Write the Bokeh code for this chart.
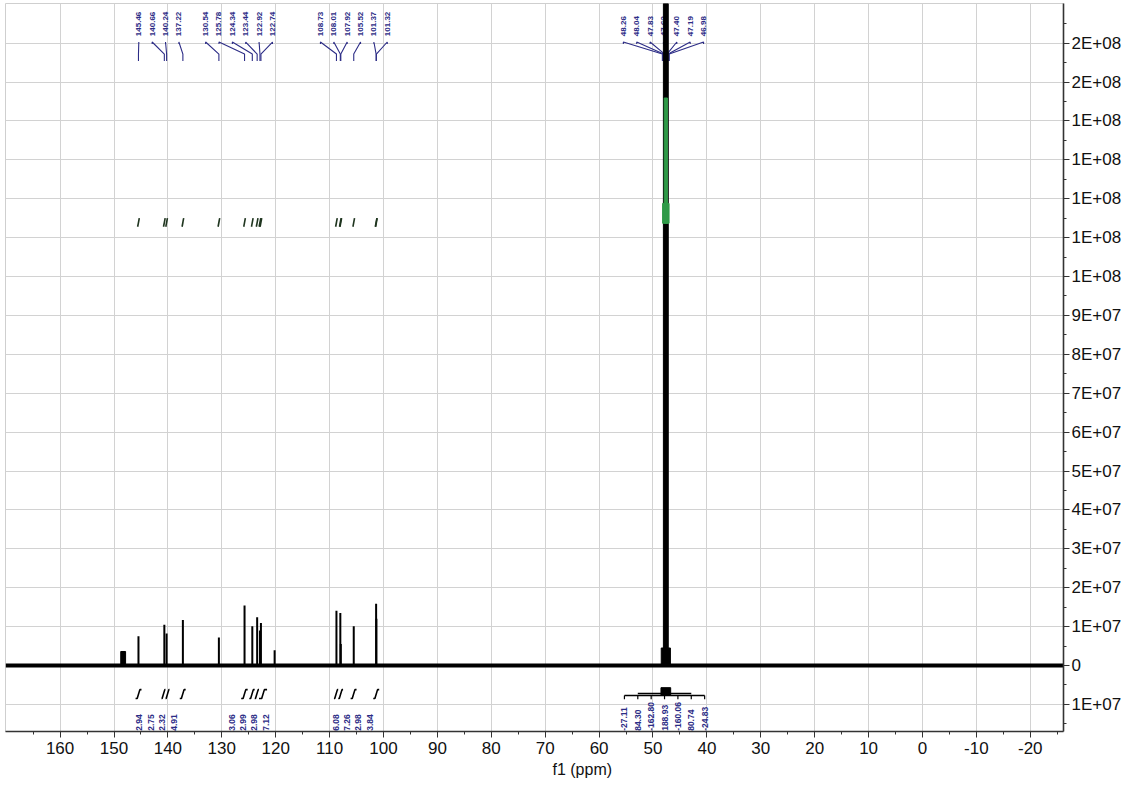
import numpy as np
from bokeh.plotting import figure
from bokeh.models import Range1d, FixedTicker, Title
from bokeh.embed import file_html
from bokeh.resources import INLINE
from bokeh.core.properties import value

# ---------------- data ----------------
spectrum_start, spectrum_end = 170.1, -26.2          # ppm extent of the trace
peak_ppm = [145.46, 140.66, 140.24, 137.22, 130.54, 125.78, 124.34, 123.44,
            122.92, 122.74, 120.20, 108.73, 108.01, 107.92, 105.52, 101.37, 101.32]
peak_height = [0.75e7, 1.05e7, 0.82e7, 1.17e7, 0.72e7, 1.54e7, 1.01e7, 1.24e7,
               0.90e7, 1.09e7, 0.39e7, 1.41e7, 1.35e7, 0.55e7, 1.01e7, 1.59e7, 1.20e7]
hump_ppm = [148.3]
hump_height = [0.36e7]
solvent_ppm = 47.62
solvent_height = 2.2e8          # off scale
solvent_base_height = 0.45e7
solvent_integral_span = [1.137e8, 1.459e8]   # green integral trace on the solvent peak
solvent_integral_wide = [1.137e8, 1.188e8]

label_groups = [[145.46, 140.66, 140.24, 137.22],
                [130.54, 125.78, 124.34, 123.44, 122.92, 122.74],
                [108.73, 108.01, 107.92, 105.52, 101.37, 101.32]]
solvent_labels = [48.26, 48.04, 47.83, 47.62, 47.40, 47.19, 46.98]

integral_values = [[2.94, 2.75, 2.32, 4.91],
                   [3.06, 2.99, 2.98, 7.12],
                   [6.08, 7.26, 2.98, 3.84]]
integral_ranges = [[(146.0, 144.9), (141.2, 140.45), (140.45, 139.7), (137.8, 136.7)],
                   [(126.4, 125.2), (124.9, 123.9), (123.9, 123.1), (123.1, 121.6)],
                   [(109.2, 108.4), (108.4, 107.5), (106.1, 105.0), (101.9, 100.8)]]
solvent_integrals = [-27.11, 84.30, -162.80, 188.93, -160.06, 80.74, -24.83]

x_tick_values = [160, 150, 140, 130, 120, 110, 100, 90, 80, 70, 60, 50, 40, 30, 20, 10, 0, -10, -20]
x_tick_labels = ["160", "150", "140", "130", "120", "110", "100", "90", "80", "70", "60",
                 "50", "40", "30", "20", "10", "0", "-10", "-20"]
y_tick_values = [-1e7, 0, 1e7, 2e7, 3e7, 4e7, 5e7, 6e7, 7e7, 8e7, 9e7,
                 1e8, 1.1e8, 1.2e8, 1.3e8, 1.4e8, 1.5e8, 1.6e8]
y_tick_labels = ["1E+07", "0", "1E+07", "2E+07", "3E+07", "4E+07", "5E+07", "6E+07",
                 "7E+07", "8E+07", "9E+07", "1E+08", "1E+08", "1E+08", "1E+08", "1E+08",
                 "2E+08", "2E+08"]
x_axis_title = "f1 (ppm)"

# ---------------- layout constants ----------------
X_LEFT, X_RIGHT = 170.13, -26.16
Y_BOTTOM, Y_TOP = -1.697e7, 1.702e8
LBL_COLOR = "#2c2c86"
TOP_STARTS = [145.4, 133.0, 111.7]
SOLV_TOP_START = 55.5
TOP_SPACING = 2.48
BOT_STARTS = [145.3, 128.2, 108.9]
BOT_SPACING = 2.13
SOLV_BOT_START = 55.3
Y_LBL_TOP = 1.618e8
Y_STUB = 1.603e8
Y_DIAG = 1.572e8
Y_END = 1.554e8
Y_INT_LO, Y_INT_HI = -0.85e7, -0.62e7
Y_LBL_BOT = -1.68e7

p = figure(frame_width=1058, frame_height=728,
           x_range=Range1d(X_LEFT, X_RIGHT), y_range=Range1d(Y_BOTTOM, Y_TOP),
           y_axis_location="right", toolbar_location=None, output_backend="svg",
           min_border_left=5, min_border_top=3, min_border_right=69, min_border_bottom=58,
           background_fill_color="white", border_fill_color="white")
p.outline_line_color = "#cfcfcf"

# axes
xminor = [v + 5 for v in x_tick_values] + [x_tick_values[-1] - 5]
xt = FixedTicker(ticks=x_tick_values, minor_ticks=xminor)
p.xaxis.ticker = xt
p.xgrid.ticker = xt
p.xaxis.major_label_overrides = {v: s for v, s in zip(x_tick_values, x_tick_labels)}
yminor = [v + 5e6 for v in y_tick_values[:-1]] + [y_tick_values[0] - 5e6, y_tick_values[-1] + 5e6]
yt = FixedTicker(ticks=y_tick_values, minor_ticks=yminor)
p.yaxis.ticker = yt
p.ygrid.ticker = yt
p.yaxis.major_label_overrides = {v: s for v, s in zip(y_tick_values, y_tick_labels)}

for ax in (p.xaxis[0], p.yaxis[0]):
    ax.axis_line_color = "#333333"
    ax.axis_line_width = 1.6
    ax.major_tick_line_color = "#333333"
    ax.minor_tick_line_color = "#333333"
    ax.major_tick_in = 0
    ax.major_tick_out = 6
    ax.minor_tick_in = 0
    ax.minor_tick_out = 3
    ax.major_label_text_font = "Liberation Sans"
    ax.major_label_text_font_size = "17px"
    ax.major_label_text_color = "#111111"
p.xaxis.major_label_standoff = 4
p.yaxis.major_label_standoff = 2

p.xgrid.grid_line_color = "#d2d2d2"
p.ygrid.grid_line_color = "#d2d2d2"

# ---------------- spectrum ----------------
p.line([spectrum_start, spectrum_end], [0, 0], line_color="black", line_width=4)
p.segment(x0=peak_ppm, y0=[0] * len(peak_ppm), x1=peak_ppm, y1=peak_height,
          line_color="black", line_width=2)
p.vbar(x=hump_ppm, width=0.9, bottom=0, top=hump_height, color="black")

# ---------------- top peak labels ----------------
tx, ty, tt = [], [], []
cx, cy = [], []
for start, grp in zip(TOP_STARTS + [SOLV_TOP_START], label_groups + [solvent_labels]):
    for i, v in enumerate(grp):
        lx = start - i * TOP_SPACING
        tx.append(lx); ty.append(Y_LBL_TOP); tt.append(f"{v:.2f}")
        cx.append([lx, lx, v, v]); cy.append([Y_LBL_TOP - 0.02e8, Y_STUB, Y_DIAG, Y_END])
p.multi_line(cx, cy, line_color=LBL_COLOR, line_width=1.1)
p.text(x=tx, y=ty, text=tt, angle=np.pi / 2, text_align="left", text_baseline="middle",
       text_font=value("Liberation Sans"), text_font_size="8px", text_color=LBL_COLOR,
       text_font_style="bold")

# small marks at the top of the aromatic integral traces
allp = [v for g in label_groups for v in g]
p.segment(x0=[v + 0.15 for v in allp], y0=[1.128e8] * len(allp),
          x1=[v - 0.15 for v in allp], y1=[1.150e8] * len(allp),
          line_color="#1f351f", line_width=1.6)

# ---------------- solvent peak ----------------
p.vbar(x=[solvent_ppm], width=1.7, bottom=0, top=[solvent_base_height], color="black")
p.vbar(x=[solvent_ppm], width=0.9, bottom=0, top=[solvent_height], color="black")
p.vbar(x=[solvent_ppm], width=0.6, bottom=[solvent_integral_span[0]],
       top=[solvent_integral_span[1]], color="#2f9a48")
p.vbar(x=[solvent_ppm], width=1.2, bottom=[solvent_integral_wide[0]],
       top=[solvent_integral_wide[1]], color="#2f9a48")

# ---------------- integrals (bottom) ----------------
ix, iy = [], []
for grp in integral_ranges:
    for a, b in grp:
        m = (a + b) / 2
        ix.append([a, m + 0.25, m - 0.25, b]); iy.append([Y_INT_LO, Y_INT_LO, Y_INT_HI, Y_INT_HI])
p.multi_line(ix, iy, line_color="black", line_width=1.6)

bx, by, bt = [], [], []
for start, grp in zip(BOT_STARTS, integral_values):
    for i, v in enumerate(grp):
        bx.append(start - i * BOT_SPACING); by.append(Y_LBL_BOT); bt.append(f"{v:.2f}")
sx = [SOLV_BOT_START - i * TOP_SPACING for i in range(len(solvent_integrals))]
for lx, v in zip(sx, solvent_integrals):
    bx.append(lx); by.append(Y_LBL_BOT); bt.append(f"{v:.2f}")
p.text(x=bx, y=by, text=bt, angle=np.pi / 2, text_align="left", text_baseline="middle",
       text_font=value("Liberation Sans"), text_font_size="8.5px", text_color=LBL_COLOR,
       text_font_style="bold")

# solvent integral bracket
p.line([sx[0], sx[-1]], [-0.77e7, -0.77e7], line_color="black", line_width=1.4)
p.segment(x0=sx, y0=[-0.77e7] * len(sx), x1=sx, y1=[-0.87e7] * len(sx),
          line_color="black", line_width=1.2)
p.line([sx[1], sx[-2]], [-0.72e7, -0.72e7], line_color="black", line_width=1.4)
p.quad(left=[solvent_ppm + 0.9], right=[solvent_ppm - 0.9], bottom=[-0.76e7], top=[-0.57e7],
       color="black")

# x axis title (placed off-centre, as in the original)
p.add_layout(Title(text=x_axis_title, align="left", offset=547, text_font="Liberation Sans",
                   text_font_size="16px", text_font_style="normal", text_color="#111111",
                   standoff=5), "below")

open("out.html", "w").write(file_html(p, INLINE))
